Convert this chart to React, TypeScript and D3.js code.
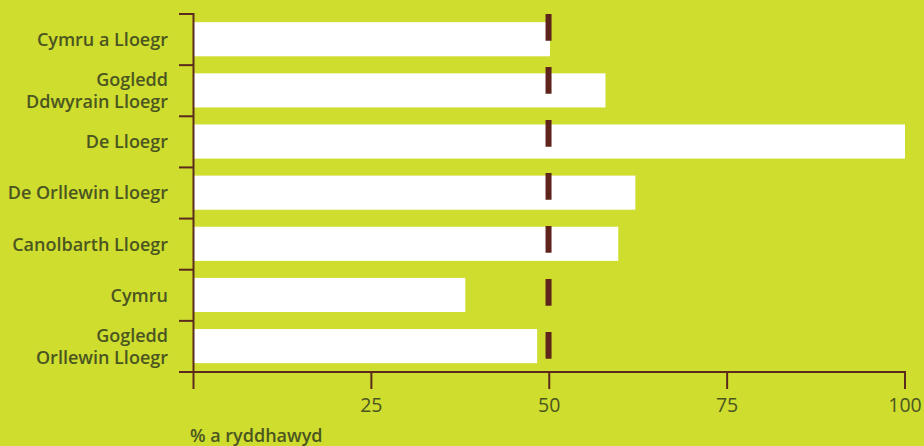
import React from "react";
import * as d3 from "d3";

const categories: string[][] = [
  ["Cymru a Lloegr"],
  ["Gogledd", "Ddwyrain Lloegr"],
  ["De Lloegr"],
  ["De Orllewin Lloegr"],
  ["Canolbarth Lloegr"],
  ["Cymru"],
  ["Gogledd", "Orllewin Lloegr"],
];
const values: number[] = [50.1, 57.9, 100, 62.1, 59.7, 38.2, 48.3];
const markerValue = 49.9;
const xTicks: number[] = [25, 50, 75, 100];
const xTitle = "% a ryddhawyd";

const W = 924;
const H = 446;
const BG = "#cedd2e";
const AXIS = "#5c2a1c";
const MARK = "#5e241c";
const TEXT = "#4b5521";
const FONT = "'Open Sans', 'Noto Sans', sans-serif";

export default function App() {
  const keys = categories.map((c) => c.join(" "));
  const x = d3.scaleLinear().domain([0, 100]).range([193.5, 905]);
  const y = d3.scaleBand<string>().domain(keys).range([14, 372]).paddingInner(0).paddingOuter(0);
  const step = y.step();
  const barH = step * 0.667;
  const barOff = step * 0.16;
  const boundaries = keys.map((k) => y(k)!).concat([372]);
  const axisY = 372;
  const lineH = 21.7;

  return (
    <svg
      width={W}
      height={H}
      style={{ position: "absolute", left: 0, top: 0, display: "block" }}
      fontFamily={FONT}
    >
      <rect x={0} y={0} width={W} height={H} fill={BG} />
      {keys.map((k, i) => (
        <rect
          key={k}
          x={x(0)}
          y={y(k)! + barOff}
          width={x(values[i]) - x(0)}
          height={barH}
          fill="#ffffff"
        />
      ))}
      <line
        x1={x(markerValue)}
        x2={x(markerValue)}
        y1={14}
        y2={axisY}
        stroke={MARK}
        strokeWidth={6}
        strokeDasharray="26.7 26.3"
      />
      {/* y axis */}
      <line x1={x(0)} x2={x(0)} y1={13} y2={389} stroke={AXIS} strokeWidth={2} />
      {boundaries.map((b, i) => (
        <line key={i} x1={179} x2={x(0)} y1={b} y2={b} stroke={AXIS} strokeWidth={2} />
      ))}
      {/* x axis */}
      <line x1={179} x2={x(100) + 1} y1={axisY} y2={axisY} stroke={AXIS} strokeWidth={2} />
      {xTicks.map((t) => (
        <g key={t}>
          <line x1={x(t)} x2={x(t)} y1={axisY} y2={389} stroke={AXIS} strokeWidth={2} />
          <text x={x(t)} y={412} textAnchor="middle" fontSize={19.5} fill={TEXT}>
            {t}
          </text>
        </g>
      ))}
      {categories.map((lines, i) => {
        const cy = y(keys[i])! + step / 2;
        const first = cy - ((lines.length - 1) * lineH) / 2;
        return (
          <text key={i} textAnchor="end" fontSize={18} fontWeight={600} fill={TEXT}>
            {lines.map((l, j) => (
              <tspan key={j} x={168} y={first + j * lineH} dy="0.36em">
                {l}
              </tspan>
            ))}
          </text>
        );
      })}
      <text x={190} y={442} fontSize={18} fontWeight={600} fill={TEXT}>
        {xTitle}
      </text>
    </svg>
  );
}
